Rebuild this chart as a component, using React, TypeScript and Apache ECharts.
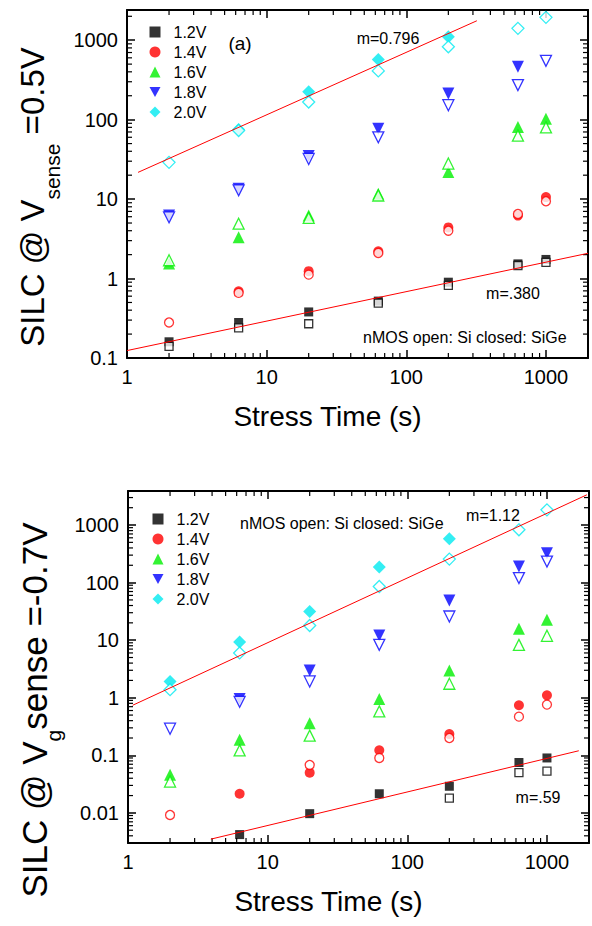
import React, { useEffect, useRef } from 'react';
import * as echarts from 'echarts';

const FONT = "'Liberation Sans', Arial, Helvetica, sans-serif";

// ---- data ----
const stressTimes = [2, 6.3, 20, 63, 200, 630, 1000];
const voltages = ['1.2V', '1.4V', '1.6V', '1.8V', '2.0V'];
const colors = ['#000000', '#ff0000', '#00f000', '#0000ff', '#00eaf0'];

// Panel (a): SILC @ Vsense = 0.5V ; closed = SiGe, open = Si
const a12Closed = [0.16, 0.28, 0.38, 0.52, 0.9, 1.53, 1.74];
const a12Open = [0.14, 0.24, 0.27, 0.49, 0.82, 1.46, 1.6];
const a14Closed = [null, 0.69, 1.24, 2.2, 4.4, 6.2, 10.6];
const a14Open = [0.28, 0.66, 1.12, 2.1, 4.0, 6.5, 9.4];
const a16Closed = [1.55, 3.3, 6.2, 11.7, 21.9, 81, 103];
const a16Open = [1.7, 4.9, 5.8, 11.1, 28, 63, 80];
const a18Closed = [6.2, 13.5, 35, 77, 213, 462, null];
const a18Open = [5.9, 12.9, 32, 60, 152, 272, 550];
const a20Closed = [null, 75, 224, 573, 1105, null, null];
const a20Open = [29, 73, 167, 411, 826, 1410, 1940];

// Panel (b): SILC @ Vg sense = -0.7V
const b12Closed = [null, 0.0042, 0.0097, 0.0215, 0.029, 0.075, 0.09];
const b12Open = [null, null, null, null, 0.018, 0.05, 0.053];
const b14Closed = [null, 0.0215, 0.05, 0.122, 0.234, 0.74, 1.1];
const b14Open = [0.0092, null, 0.068, 0.09, 0.2, 0.47, 0.76];
const b16Closed = [0.046, 0.187, 0.36, 0.95, 2.98, 15.8, 22.6];
const b16Open = [0.035, 0.122, 0.22, 0.58, 1.75, 8.3, 11.9];
const b18Closed = [null, 0.95, 2.98, 12.1, 49, 190, 325];
const b18Open = [0.29, 0.85, 1.92, 8.3, 25.8, 120, 232];
const b20Closed = [1.92, 9.3, 31.5, 186, 576, null, null];
const b20Open = [1.38, 6.0, 18, 85.6, 256, 826, 1836];

// fit lines (end points)
const fitAHigh = [[1.2, 21.7], [320, 1757]];
const fitALow = [[1, 0.124], [2000, 2.08]];
const fitBHigh = [[1.08, 0.74], [1930, 3350]];
const fitBLow = [[3.92, 0.0035], [1690, 0.12]];

// axes
const xMin = 1;
const xMax = 2000;
const yMinA = 0.1;
const yMaxA = 2400;
const yMinB = 0.003;
const yMaxB = 3900;
const xTickValues = [1, 10, 100, 1000];
const xTickLabels = ['1', '10', '100', '1000'];
const yTickValuesA = [0.1, 1, 10, 100, 1000];
const yTickLabelsA = ['0.1', '1', '10', '100', '1000'];
const yTickValuesB = [0.01, 0.1, 1, 10, 100, 1000];
const yTickLabelsB = ['0.01', '0.1', '1', '10', '100', '1000'];
const minorMultipliers = [2, 3, 4, 5, 6, 7, 8, 9];
const decadesX = [1, 10, 100, 1000];
const decadesYA = [0.1, 1, 10, 100, 1000];
const decadesYB = [0.001, 0.01, 0.1, 1, 10, 100, 1000];

const symbols = ['rect', 'circle', 'triangle', 'triangle', 'diamond'];
const symbolRotates = [0, 0, 0, 180, 0];
const symbolSizes = [9, 10, 12, 12, 13];

function minorTicks(decades: number[], lo: number, hi: number) {
  const out: number[] = [];
  decades.forEach((d) => minorMultipliers.forEach((m) => {
    const v = d * m;
    if (v > lo && v < hi) out.push(v);
  }));
  return out;
}

function labelFormatter(values: number[], labels: string[]) {
  return (v: number) => {
    const e = Math.log10(v);
    for (let i = 0; i < values.length; i++) {
      if (Math.abs(e - Math.log10(values[i])) < 1e-6) return labels[i];
    }
    return '';
  };
}

function pairs(vals: (number | null)[]) {
  const out: number[][] = [];
  vals.forEach((v, i) => { if (v != null) out.push([stressTimes[i], v]); });
  return out;
}

export default function App() {
  const ref = useRef<HTMLDivElement>(null);
  useEffect(() => {
    document.body.style.margin = '0';
    if (!ref.current) return;
    const chart = echarts.init(ref.current, undefined, { renderer: 'svg' });

    const grids = [
      { left: 127, top: 10, width: 461, height: 348 },
      { left: 128, top: 491, width: 461, height: 352 },
    ];
    const yRanges = [[yMinA, yMaxA], [yMinB, yMaxB]];
    const yTicks = [[yTickValuesA, yTickLabelsA], [yTickValuesB, yTickLabelsB]];
    const yDecades = [decadesYA, decadesYB];

    const axisLine = { show: true, lineStyle: { color: '#000', width: 2 } };
    const axisTick = { show: true, inside: true, length: 8, lineStyle: { color: '#000', width: 1.5 } };
    const tickLabelStyle = { color: '#000', fontFamily: FONT, fontSize: 20 };

    const xAxis: any[] = [];
    const yAxis: any[] = [];
    const yNames = [
      '{m|SILC @ V}{s|sense}{m| =0.5V}',
      '{m|SILC @ V}{s|g}{m|sense =-0.7V}',
    ];
    const yNameFont = [33, 35];
    const yNameShift = [26, 86];

    [0, 1].forEach((g) => {
      xAxis.push({
        type: 'log', logBase: 10, gridIndex: g, position: 'bottom', min: xMin, max: xMax,
        axisLine, axisTick, splitLine: { show: false },
        axisLabel: { ...tickLabelStyle, margin: 9, interval: 0, formatter: labelFormatter(xTickValues, xTickLabels) },
        name: 'Stress Time (s)', nameLocation: 'middle', nameGap: 44,
        nameTextStyle: { color: '#000', fontFamily: FONT, fontSize: 28, padding: [0, 60, 0, 0] },
      });
      xAxis.push({
        type: 'log', logBase: 10, gridIndex: g, position: 'top', min: xMin, max: xMax,
        axisLine, axisTick, splitLine: { show: false }, axisLabel: { show: false },
      });
      yAxis.push({
        type: 'log', logBase: 10, gridIndex: g, position: 'left', min: yRanges[g][0], max: yRanges[g][1],
        axisLine, axisTick, splitLine: { show: false },
        axisLabel: { ...tickLabelStyle, margin: 9, interval: 0, formatter: labelFormatter(yTicks[g][0] as number[], yTicks[g][1] as string[]) },
        name: yNames[g], nameLocation: 'middle', nameRotate: 90, nameGap: 66,
        nameTextStyle: {
          color: '#000', fontFamily: FONT, padding: [0, yNameShift[g], 0, 0],
          rich: {
            m: { fontSize: yNameFont[g], lineHeight: 36, verticalAlign: 'top', fontFamily: FONT, color: '#000' },
            s: { fontSize: 21, lineHeight: 20, verticalAlign: 'top', padding: [26, 0, 0, 0], fontFamily: FONT, color: '#000' },
          },
        },
      });
      yAxis.push({
        type: 'log', logBase: 10, gridIndex: g, position: 'right', min: yRanges[g][0], max: yRanges[g][1],
        axisLine, axisTick, splitLine: { show: false }, axisLabel: { show: false },
      });
    });

    const closedA = [a12Closed, a14Closed, a16Closed, a18Closed, a20Closed];
    const openA = [a12Open, a14Open, a16Open, a18Open, a20Open];
    const closedB = [b12Closed, b14Closed, b16Closed, b18Closed, b20Closed];
    const openB = [b12Open, b14Open, b16Open, b18Open, b20Open];

    const series: any[] = [];
    const tickStyle = { stroke: '#000', lineWidth: 1.2 };

    [0, 1].forEach((g) => {
      const xi = g * 2;
      const yi = g * 2;
      // minor ticks
      series.push({
        type: 'custom', xAxisIndex: xi, yAxisIndex: yi, silent: true, z: 5,
        data: minorTicks(yDecades[g], yRanges[g][0], yRanges[g][1]).map((v) => [xMin, v]),
        renderItem: (params: any, api: any) => {
          const cs = params.coordSys;
          const y = api.coord([api.value(0), api.value(1)])[1];
          return {
            type: 'group', children: [
              { type: 'line', shape: { x1: cs.x, y1: y, x2: cs.x + 5, y2: y }, style: tickStyle },
              { type: 'line', shape: { x1: cs.x + cs.width - 5, y1: y, x2: cs.x + cs.width, y2: y }, style: tickStyle },
            ],
          };
        },
      });
      series.push({
        type: 'custom', xAxisIndex: xi, yAxisIndex: yi, silent: true, z: 5,
        data: minorTicks(decadesX, xMin, xMax).map((v) => [v, yRanges[g][0]]),
        renderItem: (params: any, api: any) => {
          const cs = params.coordSys;
          const x = api.coord([api.value(0), api.value(1)])[0];
          return {
            type: 'group', children: [
              { type: 'line', shape: { x1: x, y1: cs.y + cs.height, x2: x, y2: cs.y + cs.height - 5 }, style: tickStyle },
              { type: 'line', shape: { x1: x, y1: cs.y, x2: x, y2: cs.y + 5 }, style: tickStyle },
            ],
          };
        },
      });
      const closed = g === 0 ? closedA : closedB;
      const open = g === 0 ? openA : openB;
      voltages.forEach((v, k) => {
        series.push({
          type: 'scatter', name: v, xAxisIndex: xi, yAxisIndex: yi,
          symbol: symbols[k], symbolRotate: symbolRotates[k], symbolSize: symbolSizes[k],
          itemStyle: { color: colors[k] }, data: pairs(closed[k]), z: 3,
        });
      });
      voltages.forEach((v, k) => {
        series.push({
          type: 'scatter', name: v + ' open (Si)', xAxisIndex: xi, yAxisIndex: yi,
          symbol: symbols[k], symbolRotate: symbolRotates[k], symbolSize: symbolSizes[k] - 1,
          itemStyle: { color: '#ffffff', borderColor: colors[k], borderWidth: 1.3 }, data: pairs(open[k]), z: 4,
        });
      });
      const fits = g === 0 ? [fitAHigh, fitALow] : [fitBHigh, fitBLow];
      fits.forEach((f, j) => {
        series.push({
          type: 'line', name: 'fit ' + g + j, xAxisIndex: xi, yAxisIndex: yi, data: f,
          showSymbol: false, symbol: 'none', lineStyle: { color: '#ff0000', width: 1 }, z: 6, silent: true,
        });
      });
    });

    const legendData = [
      { name: '1.2V', icon: 'rect' },
      { name: '1.4V', icon: 'circle' },
      { name: '1.6V', icon: 'triangle' },
      { name: '1.8V', icon: 'path://M0,0L12,0L6,11Z' },
      { name: '2.0V', icon: 'diamond' },
    ];
    const legendCommon = {
      orient: 'vertical', padding: 0, itemWidth: 11, itemHeight: 11, itemGap: 4,
      data: legendData, selectedMode: false,
      textStyle: { color: '#000', fontFamily: FONT, fontSize: 16, lineHeight: 16, padding: [0, 0, 0, 8] },
    };

    const txt = (x: number, y: number, text: string, size: number, align = 'center') => ({
      type: 'text', x, y,
      style: { text, fill: '#000', font: `${size}px ${FONT}`, textAlign: align, textVerticalAlign: 'middle' },
    });

    chart.setOption({
      animation: false,
      backgroundColor: '#ffffff',
      grid: grids,
      xAxis,
      yAxis,
      legend: [
        { ...legendCommon, left: 149.5, top: 24 },
        { ...legendCommon, left: 152.5, top: 511 },
      ],
      series,
      graphic: [
        txt(240, 43, '(a)', 19),
        txt(388, 38, 'm=0.796', 16),
        txt(513, 293, 'm=.380', 16),
        txt(363, 337, 'nMOS open: Si closed: SiGe', 16, 'left'),
        txt(240, 523, 'nMOS open: Si closed: SiGe', 16, 'left'),
        txt(493, 515, 'm=1.12', 16),
        txt(538, 797, 'm=.59', 16),
      ],
    });
    return () => chart.dispose();
  }, []);
  return <div ref={ref} style={{ position: 'fixed', left: 0, top: 0, width: 592, height: 926, background: '#fff' }} />;
}
